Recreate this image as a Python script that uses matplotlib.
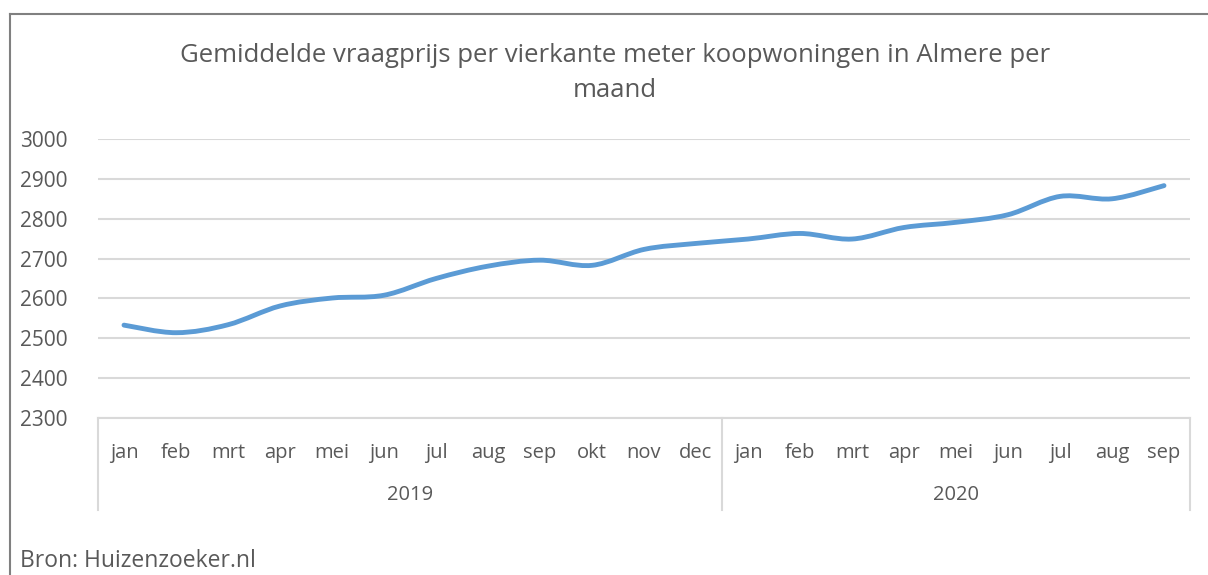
import matplotlib
matplotlib.use("Agg")
import matplotlib.pyplot as plt
import matplotlib.transforms as mtransforms
from matplotlib.path import Path
from matplotlib.patches import PathPatch
from matplotlib.lines import Line2D
import numpy as np

# data
months = ["jan", "feb", "mrt", "apr", "mei", "jun", "jul", "aug", "sep", "okt", "nov", "dec",
          "jan", "feb", "mrt", "apr", "mei", "jun", "jul", "aug", "sep"]
years = ["2019", "2020"]
months_per_year = [12, 9]
prices = [2533, 2514, 2534, 2581, 2601, 2608, 2650, 2681, 2696, 2683, 2723, 2738,
          2749, 2763, 2749, 2778, 2791, 2810, 2856, 2850, 2883]

W, H = 1208, 575
text_col = "#595959"
grid_col = "#d9d9d9"
line_col = "#5b9bd5"
plt.rcParams["font.family"] = ["Open Sans", "DejaVu Sans"]

fig = plt.figure(figsize=(W / 100, H / 100), dpi=100)
ax = fig.add_axes([98 / W, 1 - 418 / H, (1190 - 98) / W, (418 - 139) / H])

# smoothed line like excel (bezier between points)
x = np.arange(len(prices), dtype=float)
y = np.array(prices, dtype=float)
verts = [(x[0], y[0])]
codes = [Path.MOVETO]
for i in range(len(x) - 1):
    p0 = max(i - 1, 0)
    p3 = min(i + 2, len(x) - 1)
    c1 = (x[i] + (x[i + 1] - x[p0]) / 6, y[i] + (y[i + 1] - y[p0]) / 6)
    c2 = (x[i + 1] - (x[p3] - x[i]) / 6, y[i + 1] - (y[p3] - y[i]) / 6)
    verts += [c1, c2, (x[i + 1], y[i + 1])]
    codes += [Path.CURVE4] * 3
ax.add_patch(PathPatch(Path(verts, codes), fill=False, edgecolor=line_col,
                       lw=3.5, capstyle="round", joinstyle="round", zorder=3))

ax.set_xlim(-0.5, len(prices) - 0.5)
ax.set_ylim(2300, 3000)
ax.set_yticks(range(2300, 3001, 100))
ax.yaxis.grid(True, color=grid_col, lw=1.5)
ax.set_axisbelow(True)
for s in ["top", "right", "left"]:
    ax.spines[s].set_visible(False)
ax.spines["bottom"].set_color(grid_col)
ax.spines["bottom"].set_linewidth(1.5)
ax.tick_params(axis="y", length=0, pad=22, labelsize=15, labelcolor=text_col)
ax.set_xticks(x)
ax.set_xticklabels(months)
ax.tick_params(axis="x", length=0, pad=18, labelsize=14.5, labelcolor=text_col)

# multi level category axis
trans = mtransforms.blended_transform_factory(ax.transData, ax.transAxes)
bottom = -(510 - 418) / (418 - 139)
ypos = -(495 - 418) / (418 - 139)
start = -0.5
for yr, n in zip(years, months_per_year):
    ax.add_line(Line2D([start, start], [0, bottom], transform=trans, color=grid_col,
                       lw=1.5, clip_on=False))
    ax.text(start + n / 2, ypos, yr, transform=trans, ha="center", va="center",
            fontsize=14.5, color=text_col)
    start += n
ax.add_line(Line2D([start, start], [0, bottom], transform=trans, color=grid_col,
                   lw=1.5, clip_on=False))

# chart border
fig.add_artist(Line2D([10 / W, 1], [1 - 14 / H] * 2, color="#808080", lw=1.5))
fig.add_artist(Line2D([10 / W] * 2, [0, 1 - 14 / H], color="#808080", lw=1.5))

fig.text(615 / W, 1 - 73 / H,
         "Gemiddelde vraagprijs per vierkante meter koopwoningen in Almere per\nmaand",
         ha="center", va="center", fontsize=18.5, color=text_col, linespacing=1.55)
fig.text(20 / W, 1 - 561 / H, "Bron: Huizenzoeker.nl", ha="left", va="center",
         fontsize=16.5, color=text_col)

fig.savefig("out.png", dpi=100, facecolor="white")
